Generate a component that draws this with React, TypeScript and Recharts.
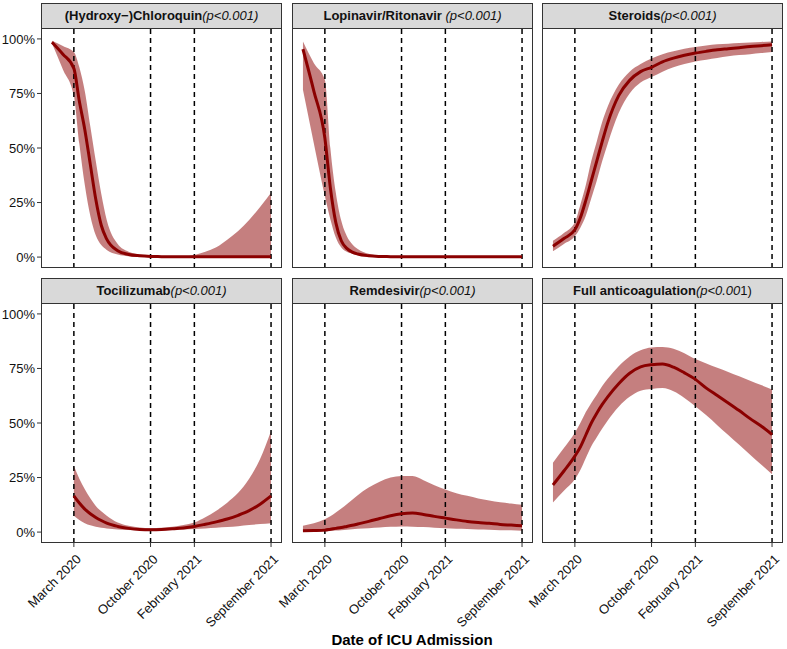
import React from "react";
import { Area, ComposedChart, Line, ReferenceLine, XAxis, YAxis } from "recharts";

// months since January 2020
const months = [0, 1, 2, 2.5, 3, 3.5, 4, 4.5, 5, 6, 7, 8, 9, 10, 11, 12, 13, 14, 15, 16, 17, 18, 19, 20];

const dateTicks = [2, 9, 13, 20];
const dateLabels = ["March 2020", "October 2020", "February 2021", "September 2021"];
const pctTicks = [0, 0.25, 0.5, 0.75, 1];

const hcqMean = [0.985, 0.93, 0.865, 0.714, 0.584, 0.425, 0.265, 0.146, 0.082, 0.029, 0.012, 0.006, 0.003, 0.002, 0.001, 0.001, 0.001, 0.001, 0.001, 0.001, 0.001, 0.001, 0.001, 0.001];
const hcqLo = [0.98, 0.86, 0.74, 0.52, 0.33, 0.19, 0.1, 0.055, 0.033, 0.012, 0.004, 0.001, 0, 0, 0, 0, 0, 0, 0, 0, 0, 0, 0, 0];
const hcqHi = [0.992, 0.968, 0.94, 0.87, 0.76, 0.6, 0.44, 0.29, 0.17, 0.06, 0.025, 0.012, 0.006, 0.004, 0.003, 0.004, 0.01, 0.025, 0.045, 0.08, 0.12, 0.17, 0.23, 0.295];

const lpvMean = [0.953, 0.76, 0.546, 0.318, 0.158, 0.075, 0.04, 0.023, 0.014, 0.006, 0.003, 0.002, 0.001, 0.001, 0.001, 0.001, 0.001, 0.001, 0.001, 0.001, 0.001, 0.001, 0.001, 0.001];
const lpvLo = [0.767, 0.52, 0.28, 0.174, 0.09, 0.044, 0.024, 0.015, 0.01, 0.004, 0.002, 0.001, 0.001, 0.001, 0.001, 0.001, 0.001, 0.001, 0.001, 0.001, 0.001, 0.001, 0.001, 0.001];
const lpvHi = [0.988, 0.889, 0.813, 0.5, 0.295, 0.166, 0.097, 0.059, 0.037, 0.015, 0.007, 0.004, 0.002, 0.002, 0.002, 0.002, 0.002, 0.002, 0.002, 0.002, 0.002, 0.002, 0.002, 0.002];

const sterMean = [0.05, 0.085, 0.125, 0.18, 0.26, 0.35, 0.44, 0.53, 0.615, 0.74, 0.81, 0.85, 0.87, 0.895, 0.912, 0.925, 0.935, 0.943, 0.95, 0.955, 0.96, 0.965, 0.969, 0.973];
const sterLo = [0.027, 0.06, 0.095, 0.135, 0.19, 0.27, 0.35, 0.44, 0.52, 0.66, 0.75, 0.8, 0.825, 0.85, 0.87, 0.885, 0.897, 0.905, 0.913, 0.92, 0.926, 0.93, 0.935, 0.94];
const sterHi = [0.075, 0.11, 0.16, 0.24, 0.33, 0.44, 0.53, 0.62, 0.69, 0.79, 0.85, 0.885, 0.91, 0.93, 0.943, 0.955, 0.963, 0.97, 0.975, 0.978, 0.981, 0.984, 0.986, 0.988];

// tocilizumab only from March 2020
const tociMean = [null, null, 0.166, 0.133, 0.105, 0.084, 0.067, 0.053, 0.041, 0.026, 0.017, 0.012, 0.011, 0.012, 0.015, 0.019, 0.026, 0.036, 0.047, 0.06, 0.077, 0.098, 0.128, 0.166];
const tociLo = [null, null, 0.075, 0.055, 0.041, 0.031, 0.024, 0.02, 0.017, 0.012, 0.01, 0.009, 0.009, 0.009, 0.011, 0.012, 0.014, 0.017, 0.02, 0.023, 0.027, 0.032, 0.037, 0.041];
const tociHi = [null, null, 0.303, 0.245, 0.196, 0.155, 0.12, 0.095, 0.075, 0.044, 0.029, 0.021, 0.018, 0.02, 0.024, 0.032, 0.044, 0.068, 0.098, 0.135, 0.18, 0.245, 0.335, 0.463];

const remMean = [0.006, 0.007, 0.009, 0.013, 0.017, 0.021, 0.026, 0.031, 0.037, 0.049, 0.062, 0.075, 0.084, 0.087, 0.081, 0.072, 0.064, 0.056, 0.049, 0.044, 0.04, 0.035, 0.032, 0.029];
const remLo = [0.001, 0.002, 0.003, 0.005, 0.007, 0.009, 0.011, 0.013, 0.015, 0.018, 0.021, 0.024, 0.026, 0.025, 0.023, 0.02, 0.018, 0.015, 0.014, 0.012, 0.011, 0.009, 0.008, 0.006];
const remHi = [0.029, 0.04, 0.059, 0.073, 0.09, 0.108, 0.128, 0.148, 0.169, 0.204, 0.231, 0.25, 0.257, 0.257, 0.238, 0.215, 0.195, 0.178, 0.166, 0.154, 0.145, 0.137, 0.131, 0.125];

const antiMean = [0.216, 0.28, 0.348, 0.39, 0.445, 0.5, 0.545, 0.585, 0.62, 0.68, 0.728, 0.757, 0.767, 0.77, 0.756, 0.73, 0.7, 0.66, 0.626, 0.592, 0.557, 0.52, 0.486, 0.447];
const antiLo = [0.136, 0.19, 0.242, 0.285, 0.34, 0.394, 0.435, 0.475, 0.512, 0.575, 0.62, 0.648, 0.656, 0.66, 0.645, 0.615, 0.577, 0.535, 0.49, 0.445, 0.4, 0.355, 0.31, 0.265];
const antiHi = [0.318, 0.385, 0.455, 0.5, 0.55, 0.592, 0.63, 0.67, 0.703, 0.76, 0.805, 0.833, 0.846, 0.848, 0.84, 0.82, 0.793, 0.773, 0.753, 0.734, 0.714, 0.694, 0.674, 0.653];

const RED = "#8B0000";
const INK = "#111";
const FONT = "'Liberation Sans', Arial, Helvetica, sans-serif";
const COLS = [41, 292, 542];
const ROWS = [28, 303];
const PW = 241;
const PH = 240;
const Y_AXIS_W = 41;
const X_AXIS_H = 90;

function buildRows(mean, lo, hi) {
  return months
    .map((m, i) => ({ m, mean: mean[i], band: [lo[i], hi[i]] }))
    .filter((r) => r.mean != null);
}

function DateTick(props) {
  const { x, y, payload } = props;
  const label = dateLabels[dateTicks.indexOf(payload.value)];
  const ax = x + 8;
  const ay = y + 11;
  return (
    <text x={ax} y={ay} textAnchor="end" fontSize={13} fill={INK} transform={`rotate(-45 ${ax} ${ay})`}>
      {label}
    </text>
  );
}

function Panel({ col, row, name, note, tail, mean, lo, hi }) {
  const showY = col === 0;
  const showX = row === 1;
  const px = COLS[col];
  const py = ROWS[row];
  const data = buildRows(mean, lo, hi);

  return (
    <>
      <div
        style={{
          position: "absolute",
          left: px,
          top: py - 25,
          width: PW,
          height: 26,
          boxSizing: "border-box",
          border: "1px solid #333",
          background: "#D9D9D9",
          fontSize: 13,
          lineHeight: "24px",
          textAlign: "center",
          color: INK,
          whiteSpace: "pre",
        }}
      >
        <b>{name}</b>
        <i>{note}</i>
        {tail}
      </div>
      <div style={{ position: "absolute", left: px - Y_AXIS_W, top: py }}>
        <ComposedChart
          width={PW + Y_AXIS_W}
          height={PH + (showX ? X_AXIS_H : 0)}
          data={data}
          margin={{ top: 0, right: 0, bottom: 0, left: showY ? 0 : Y_AXIS_W }}
        >
          <XAxis
            type="number"
            dataKey="m"
            domain={[-1, 21]}
            ticks={dateTicks}
            interval={0}
            allowDataOverflow
            hide={!showX}
            height={X_AXIS_H}
            tickSize={4}
            axisLine={false}
            tickLine={{ stroke: "#333" }}
            tick={<DateTick />}
          />
          <YAxis
            type="number"
            domain={[-0.05, 1.05]}
            ticks={pctTicks}
            allowDataOverflow
            hide={!showY}
            width={Y_AXIS_W}
            tickSize={4}
            axisLine={false}
            tickLine={{ stroke: "#333" }}
            tick={{ fill: INK, fontSize: 13 }}
            tickFormatter={(v) => `${Math.round(v * 100)}%`}
          />
          <Area
            dataKey="band"
            type="monotone"
            fill={RED}
            fillOpacity={0.5}
            stroke="none"
            isAnimationActive={false}
          />
          {dateTicks.map((t) => (
            <ReferenceLine key={t} x={t} stroke="#000" strokeWidth={1.5} strokeDasharray="5 4" />
          ))}
          <Line
            dataKey="mean"
            type="monotone"
            stroke={RED}
            strokeWidth={3}
            dot={false}
            isAnimationActive={false}
          />
        </ComposedChart>
      </div>
      <div
        style={{
          position: "absolute",
          left: px,
          top: py,
          width: PW,
          height: PH,
          boxSizing: "border-box",
          border: "1px solid #333",
          pointerEvents: "none",
        }}
      />
    </>
  );
}

export default function App() {
  return (
    <div
      style={{
        position: "absolute",
        left: 0,
        top: 0,
        width: 787,
        height: 649,
        background: "#fff",
        fontFamily: FONT,
        overflow: "hidden",
      }}
    >
      <Panel col={0} row={0} name={"(Hydroxy\u2212)Chloroquin"} note="(p<0.001)" mean={hcqMean} lo={hcqLo} hi={hcqHi} />
      <Panel col={1} row={0} name="Lopinavir/Ritonavir " note="(p<0.001)" mean={lpvMean} lo={lpvLo} hi={lpvHi} />
      <Panel col={2} row={0} name="Steroids" note="(p<0.001)" mean={sterMean} lo={sterLo} hi={sterHi} />
      <Panel col={0} row={1} name="Tocilizumab" note="(p<0.001)" mean={tociMean} lo={tociLo} hi={tociHi} />
      <Panel col={1} row={1} name="Remdesivir" note="(p<0.001)" mean={remMean} lo={remLo} hi={remHi} />
      <Panel col={2} row={1} name="Full anticoagulation" note="(p<0.00" tail="1)" mean={antiMean} lo={antiLo} hi={antiHi} />
      <div
        style={{
          position: "absolute",
          left: 41,
          width: 742,
          top: 631,
          textAlign: "center",
          fontSize: 15,
          fontWeight: "bold",
          color: "#000",
        }}
      >
        Date of ICU Admission
      </div>
    </div>
  );
}
